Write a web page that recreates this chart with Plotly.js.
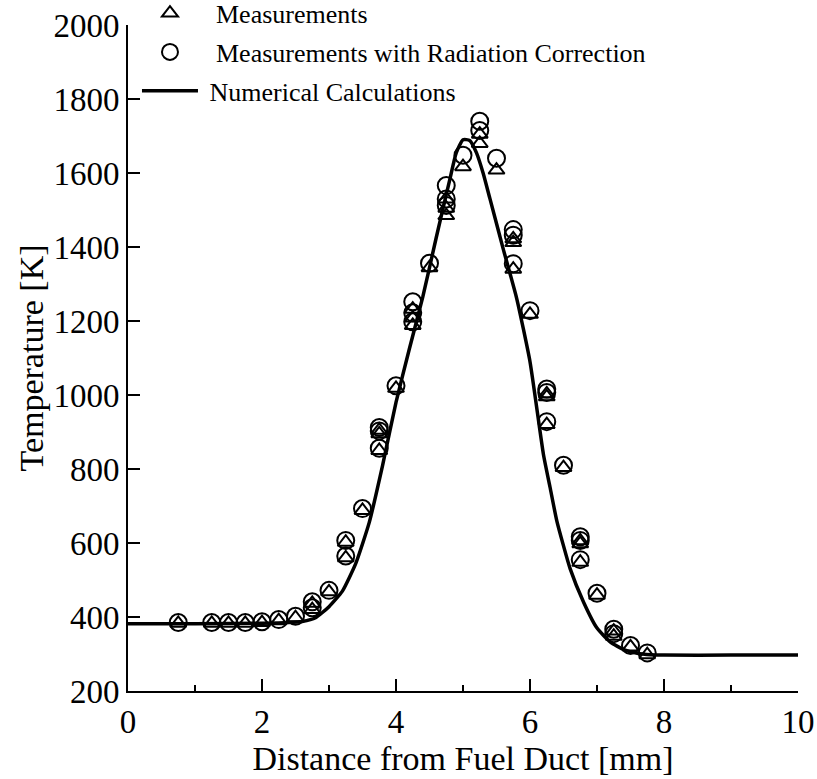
<!DOCTYPE html>
<html>
<head>
<meta charset="utf-8">
<script src="https://cdn.plot.ly/plotly-3.0.1.min.js"></script>
<style>html,body{margin:0;padding:0;background:#fff;}#chart{width:817px;height:779px;}</style>
</head>
<body>
<div id="chart"></div>
<script>
// Measurement positions [mm]
var measX = [0.75, 1.25, 1.5, 1.75, 2.0, 2.25, 2.5, 2.75, 2.75, 3.0, 3.25, 3.25, 3.5, 3.75, 3.75, 3.75, 4.0, 4.25, 4.25, 4.25, 4.5, 4.75, 4.75, 4.75, 5.0, 5.25, 5.25, 5.5, 5.75, 5.75, 5.75, 6.0, 6.25, 6.25, 6.25, 6.5, 6.75, 6.75, 6.75, 7.0, 7.25, 7.25, 7.5, 7.75];
// Measured temperatures [K]
var measT = [383, 383, 383, 383, 385, 390, 398, 437, 420, 468, 602, 560, 688, 905, 895, 850, 1018, 1232, 1208, 1188, 1344, 1530, 1505, 1485, 1617, 1705, 1680, 1608, 1422, 1412, 1340, 1218, 1003, 995, 920, 804, 606, 598, 548, 459, 362, 348, 319, 298];
// Measurements with radiation correction [K]
var corrT = [385, 385, 385, 385, 387, 393, 402, 441, 425, 472, 607, 565, 693, 912, 903, 856, 1025, 1252, 1222, 1198, 1356, 1566, 1530, 1512, 1648, 1740, 1715, 1640, 1447, 1432, 1355, 1228, 1016, 1007, 928, 810, 617, 607, 555, 464, 367, 355, 323, 303];
// Numerical calculation
var calcX = [0, 1, 2, 2.4, 2.6, 2.8, 3.0, 3.2, 3.4, 3.6, 3.8, 4.0, 4.2, 4.4, 4.6, 4.8, 4.9, 5.0, 5.1, 5.2, 5.3, 5.4, 5.6, 5.8, 6.0, 6.2, 6.3, 6.4, 6.6, 6.8, 7.0, 7.2, 7.4, 7.6, 7.8, 8.0, 9.0, 10.0];
var calcT = [382, 382, 383, 385, 388, 398, 428, 470, 545, 655, 810, 980, 1125, 1265, 1425, 1580, 1655, 1690, 1688, 1655, 1600, 1532, 1395, 1262, 1090, 840, 750, 660, 530, 440, 370, 332, 312, 302, 298, 297, 297, 297];

var serif = "Liberation Serif";
var pad = "\u00a0\u00a0";

var traces = [
  {x: measX, y: measT, mode: 'markers', type: 'scatter', name: pad + 'Measurements', legendgroup: 'a',
   marker: {symbol: 'triangle-up-open', size: 14, color: '#000', line: {width: 2, color: '#000'}}},
  {x: measX, y: corrT, mode: 'markers', type: 'scatter', name: pad + 'Measurements with Radiation Correction', legendgroup: 'b',
   marker: {symbol: 'circle-open', size: 17, color: '#000', line: {width: 2, color: '#000'}}},
  {x: calcX, y: calcT, mode: 'lines', type: 'scatter', name: '\u00a0Numerical Calculations', legendgroup: 'c',
   line: {color: '#000', width: 3.5, shape: 'spline', smoothing: 0.5}}
];

var layout = {
  width: 817, height: 779,
  margin: {l: 128, r: 19, t: 25, b: 88, autoexpand: false},
  paper_bgcolor: '#fff', plot_bgcolor: '#fff',
  font: {family: serif, color: '#000'},
  showlegend: true,
  legend: {x: 0.0134, xanchor: 'left', y: 1.053, yanchor: 'top', bgcolor: 'rgba(0,0,0,0)',
           font: {family: serif, size: 26, color: '#000'}, tracegroupgap: 2, itemwidth: 56},
  xaxis: {range: [0, 10], dtick: 2, tick0: 0, showline: true, linewidth: 2, linecolor: '#000',
          ticks: 'inside', ticklen: 12, tickwidth: 2, tickcolor: '#000', showgrid: false, zeroline: false,
          minor: {dtick: 1, tick0: 0, ticks: 'inside', ticklen: 6, tickwidth: 2, tickcolor: '#000', showgrid: false},
          tickfont: {family: serif, size: 33, color: '#000'},
          title: {text: 'Distance from Fuel Duct [mm]', font: {family: serif, size: 34, color: '#000'}, standoff: 0}},
  yaxis: {range: [200, 2000], dtick: 200, tick0: 0, showline: true, linewidth: 2, linecolor: '#000',
          ticks: 'inside', ticklen: 12, tickwidth: 2, tickcolor: '#000', showgrid: false, zeroline: false,
          tickfont: {family: serif, size: 33, color: '#000'},
          title: {text: 'Temperature [K]', font: {family: serif, size: 34, color: '#000'}, standoff: 0}}
};

Plotly.newPlot('chart', traces, layout, {displayModeBar: false, staticPlot: true});
</script>
</body>
</html>
